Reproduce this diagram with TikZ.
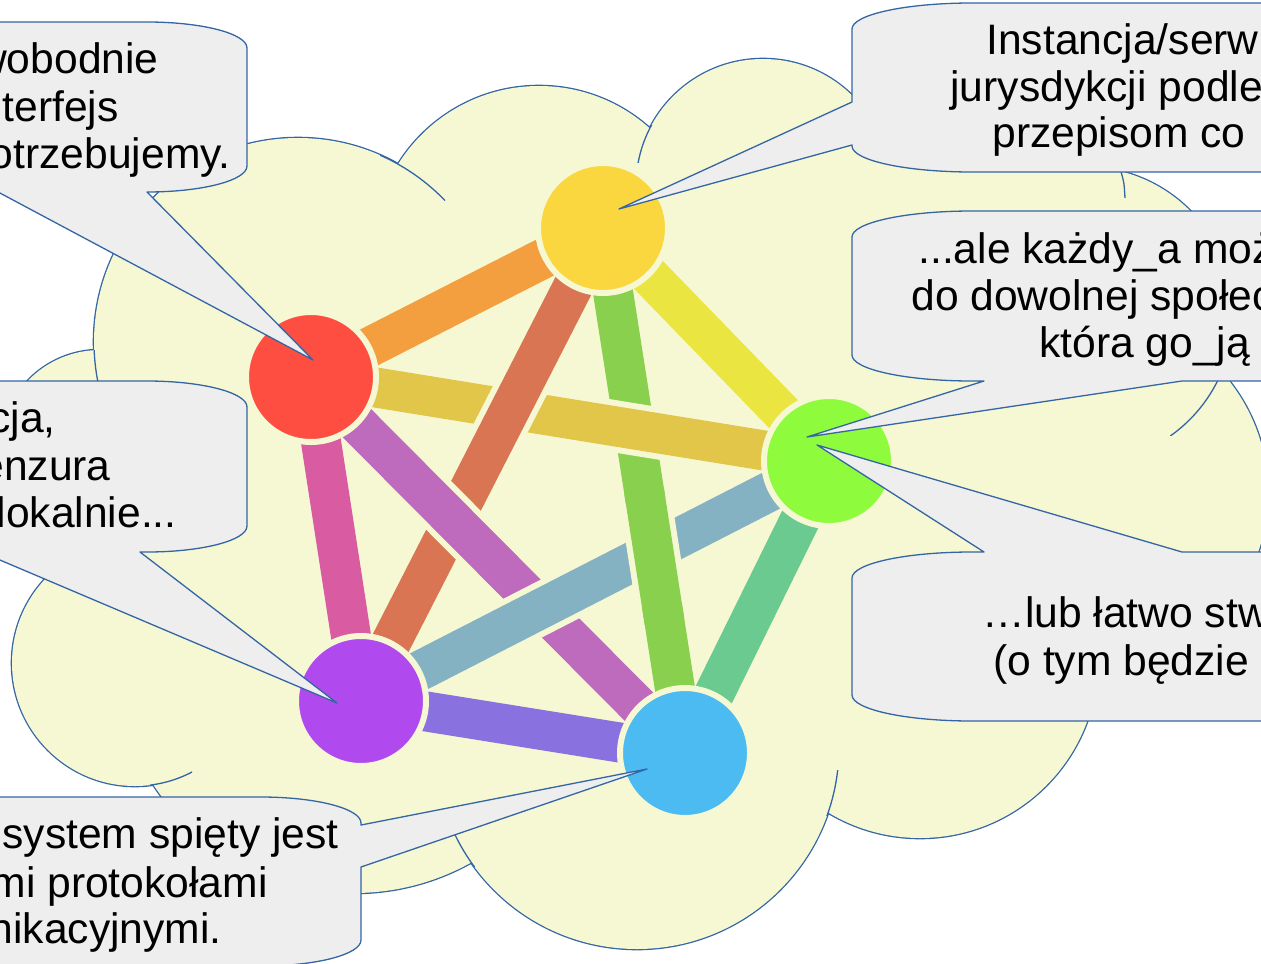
\documentclass[tikz,border=0pt]{standalone}
\usepackage{fontspec}
\setmainfont{Liberation Sans}
\usetikzlibrary{calc}

\definecolor{cloudfill}{HTML}{F6F8D3}
\definecolor{outlineblue}{HTML}{3465A4}
\definecolor{bubblegray}{HTML}{EEEEEE}
\definecolor{hubred}{HTML}{FE4E42}
\definecolor{hubyellow}{HTML}{FAD73F}
\definecolor{hubgreen}{HTML}{8EFB3D}
\definecolor{hubblue}{HTML}{4BBBF1}
\definecolor{hubpurple}{HTML}{B04AEF}
\definecolor{linkorange}{HTML}{F39F3F}
\definecolor{linkyellow}{HTML}{EBE542}
\definecolor{linkmint}{HTML}{6ACA8F}
\definecolor{linkviolet}{HTML}{8971E0}
\definecolor{linkpink}{HTML}{D95BA1}
\definecolor{linkgold}{HTML}{E2C64A}
\definecolor{linkbrown}{HTML}{DA7553}
\definecolor{linkgreen}{HTML}{88D04D}
\definecolor{linkteal}{HTML}{85B2C3}
\definecolor{linklilac}{HTML}{BE6BBE}

\pgfdeclarelayer{cloud}
\pgfdeclarelayer{links}
\pgfdeclarelayer{bubbles}
\pgfsetlayers{cloud,links,main,bubbles}

\tikzstyle{hub} = [circle, minimum size=65pt, inner sep=0pt, outer sep=0pt, draw=cloudfill, line width=3pt]
\tikzstyle{link} = [line width=20pt]
\tikzstyle{linkgap} = [line width=26pt, draw=cloudfill, shorten <=45pt, shorten >=45pt]
\tikzstyle{cloudline} = [draw=outlineblue, line width=0.65pt]
\tikzstyle{callout} = [fill=bubblegray, draw=outlineblue, line width=0.65pt, line join=round]
\tikzstyle{bubbletext} = [inner sep=0pt, font=\fontsize{21.3pt}{23.5pt}\selectfont]

\begin{document}
\begin{tikzpicture}[x=0.5pt, y=-0.5pt]
\useasboundingbox (0,0) rectangle (1261,963);

% instances
\node (red) [hub, fill=hubred] at (311,377) {};
\node (yellow) [hub, fill=hubyellow] at (603,228) {};
\node (green) [hub, fill=hubgreen] at (829,461) {};
\node (blue) [hub, fill=hubblue] at (685,753) {};
\node (purple) [hub, fill=hubpurple] at (361,701) {};

\begin{pgfonlayer}{cloud}
\def\bumps{298/342/102pt, 539/252/83pt, 763/186/63.5pt, 990/152/67pt, 1085/315/74pt, 1087/493/90.5pt, 920/660/89pt, 637/747/101pt, 354/653/120pt, 135/663/61.5pt, 100/450/50pt}
\foreach \cx/\cy/\rad in \bumps
  \draw[outlineblue, line width=1.3pt] (\cx,\cy) circle[radius=\rad];
\foreach \cx/\cy/\rad in \bumps
  \fill[cloudfill] (\cx,\cy) circle[radius=\rad];
\fill[cloudfill] (298,342) -- (539,252) -- (763,186) -- (990,152) -- (1085,315) -- (1087,493)
  -- (920,660) -- (637,747) -- (354,653) -- (135,663) -- (100,450) -- cycle;
% inner hooks of the bumps
\begin{scope}
\clip (380,140) rectangle (445,200);
\draw[cloudline] (298,342) circle[radius=102pt];
\end{scope}
\begin{scope}
\clip (85,350) rectangle (110,382);
\draw[cloudline] (298,342) circle[radius=102pt];
\end{scope}
\begin{scope}
\clip (630,125) rectangle (655,162);
\draw[cloudline] (763,186) circle[radius=63.5pt];
\end{scope}
\draw[cloudline] (1121,172) .. controls (1124,182) .. (1125,198);
\begin{scope}
\clip (1170,381) rectangle (1225,435);
\draw[cloudline] (1085,315) circle[radius=74pt];
\end{scope}
\begin{scope}
\clip (445,830) rectangle (478,866);
\draw[cloudline] (637,747) circle[radius=101pt];
\end{scope}
\begin{scope}
\clip (826,770) rectangle (845,815);
\draw[cloudline] (637,747) circle[radius=101pt];
\end{scope}
\begin{scope}
\clip (150,768) rectangle (192,790);
\draw[cloudline] (135,663) circle[radius=61.5pt];
\end{scope}
\end{pgfonlayer}

\begin{pgfonlayer}{links}
% rim
\draw[link, linkorange] (red.center) -- (yellow.center);
\draw[link, linkyellow] (yellow.center) -- (green.center);
\draw[link, linkmint] (green.center) -- (blue.center);
\draw[link, linkviolet] (blue.center) -- (purple.center);
\draw[link, linkpink] (purple.center) -- (red.center);
% star, each bar over the one before
\draw[link, linkgreen] (yellow.center) -- (blue.center);
\draw[linkgap] (red.center) -- (green.center);
\draw[link, linkgold] (red.center) -- (green.center);
\draw[linkgap] (yellow.center) -- (purple.center);
\draw[link, linkbrown] (yellow.center) -- (purple.center);
\draw[linkgap] (red.center) -- (blue.center);
\draw[link, linklilac] (red.center) -- (blue.center);
\draw[linkgap] (purple.center) -- (green.center);
\draw[link, linkteal] (purple.center) -- (green.center);
% green goes back over teal
\draw[linkgap, shorten <=0pt, shorten >=0pt] ($(yellow)!0.52!(blue)$) -- ($(yellow)!0.72!(blue)$);
\draw[link, linkgreen] ($(yellow)!0.5!(blue)$) -- ($(yellow)!0.75!(blue)$);
\end{pgfonlayer}

\begin{pgfonlayer}{bubbles}
\coordinate (tipred) at (313,360);
\coordinate (tipyellow) at (619,209);
\coordinate (tipgreenA) at (807,437);
\coordinate (tipgreenB) at (817,445);
\coordinate (tippurple) at (337,703);
\coordinate (tipblue) at (647,769);

\draw[callout] (-300,22) -- (147,22) .. controls (202.2,22) and (247,33.6) .. (247,48)
  -- (247,166) .. controls (247,180.4) and (202.2,192) .. (147,192)
  -- (tipred) -- (-2,192) -- (-300,192) -- cycle;
\draw[callout] (1600,3) -- (972,3) .. controls (905.8,3) and (852,14.6) .. (852,29)
  -- (852,102) -- (tipyellow) -- (852,145)
  -- (852,146) .. controls (852,160.4) and (905.8,172) .. (972,172) -- (1600,172) -- cycle;
\draw[callout] (1600,211) -- (972,211) .. controls (905.8,211) and (852,222.6) .. (852,237)
  -- (852,355) .. controls (852,369.4) and (905.8,381) .. (972,381)
  -- (984,381) -- (tipgreenA) -- (1182,381) -- (1600,381) -- cycle;
\draw[callout] (1600,552) -- (1182,552) -- (tipgreenB) -- (984,552)
  -- (972,552) .. controls (905.8,552) and (852,563.6) .. (852,578)
  -- (852,695) .. controls (852,709.4) and (905.8,721) .. (972,721) -- (1600,721) -- cycle;
\draw[callout] (-300,381) -- (147,381) .. controls (202.2,381) and (247,392.6) .. (247,407)
  -- (247,526) .. controls (247,540.4) and (202.2,552) .. (147,552)
  -- (140,552) -- (tippurple) -- (-19,552) -- (-300,552) -- cycle;
\draw[callout] (-300,797) -- (261,797) .. controls (316.2,797) and (361,808.6) .. (361,823)
  -- (361,825) -- (tipblue) -- (361,867)
  -- (361,940) .. controls (361,954.4) and (316.2,966) .. (261,966) -- (-300,966) -- cycle;

\node (wob1) [bubbletext, anchor=base east] at (159,74) {wobodnie};
\node (wob2) [bubbletext, anchor=base east] at (119,121) {nterfejs};
\node (wob3) [bubbletext, anchor=base east] at (231,168) {otrzebujemy.};

\node (inst1) [bubbletext, anchor=base west] at (986,55) {Instancja/serw};
\node (inst2) [bubbletext, anchor=base west] at (950,101) {jurysdykcji podle};
\node (inst3) [bubbletext, anchor=base west] at (992,147) {przepisom co};

\node (ale1) [bubbletext, anchor=base west] at (918,263) {...ale każdy\_a moż};
\node (ale2) [bubbletext, anchor=base west] at (911,310) {do dowolnej społec};
\node (ale3) [bubbletext, anchor=base west] at (1039,357) {która go\_ją};

\node (lub1) [bubbletext, anchor=base west] at (982,627) {…lub łatwo stw};
\node (lub2) [bubbletext, anchor=base west] at (993,675) {(o tym będzie};

\node (mod1) [bubbletext, anchor=base east] at (56,432) {cja,};
\node (mod2) [bubbletext, anchor=base east] at (111,480) {enzura};
\node (mod3) [bubbletext, anchor=base east] at (177,527) {lokalnie...};

\node (eko1) [bubbletext, anchor=base east] at (339,848) {osystem spięty jest};
\node (eko2) [bubbletext, anchor=base east] at (268,897) {mi protokołami};
\node (eko3) [bubbletext, anchor=base east] at (222,943) {nikacyjnymi.};
\end{pgfonlayer}

\end{tikzpicture}
\end{document}
